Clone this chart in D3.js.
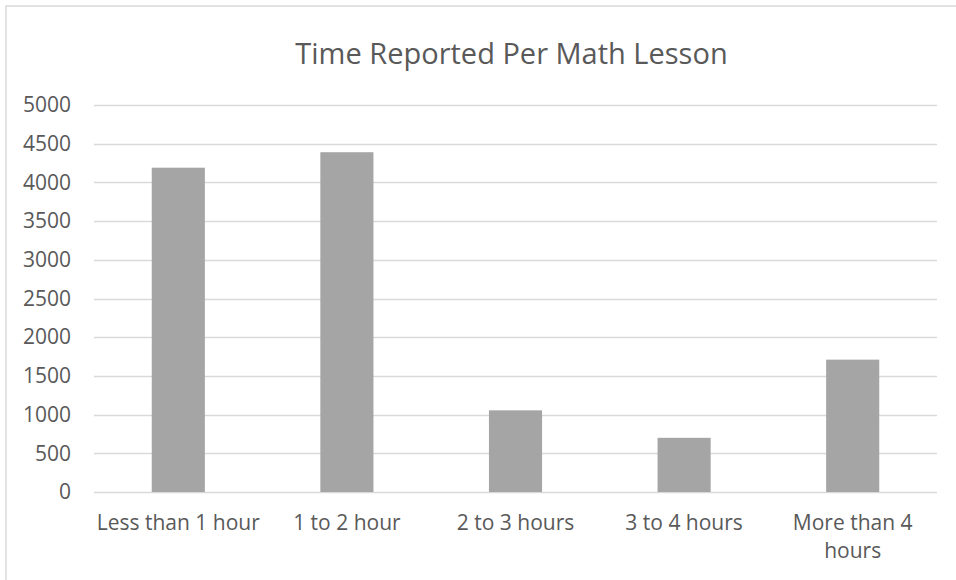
<!DOCTYPE html>
<html>
<head>
  <script src="https://d3js.org/d3.v7.min.js"></script>
</head>
<style>
body { margin: 0; background: #fff; }
text { font-family: "Open Sans", sans-serif; fill: #595959; }
</style>
<body>
  <svg id="chart"></svg>
</body>
<script>
  var categories = ["Less than 1 hour", "1 to 2 hour", "2 to 3 hours", "3 to 4 hours", "More than 4 hours"];
  var values = [4190, 4390, 1055, 700, 1710];
  var yTicks = [0, 500, 1000, 1500, 2000, 2500, 3000, 3500, 4000, 4500, 5000];
  var title = "Time Reported Per Math Lesson";

  var w = 956;
  var h = 580;
  var margin = {top: 105, right: 19, bottom: 88, left: 94};

  var svg = d3.select("#chart")
    .attr("width", w)
    .attr("height", h);

  // chart frame (only top/left edges fall inside the picture)
  svg.append("rect")
    .attr("x", 6).attr("y", 6)
    .attr("width", 1000).attr("height", 1000)
    .attr("fill", "#fff")
    .attr("stroke", "#d9d9d9")
    .attr("stroke-width", 1.5);

  var x = d3.scaleBand()
    .domain(categories)
    .range([margin.left, w - margin.right])
    .paddingInner(0.685)
    .paddingOuter(0.3425);

  var y = d3.scaleLinear()
    .domain([0, 5000])
    .range([h - margin.bottom, margin.top]);

  // gridlines
  svg.append("g")
    .selectAll("line")
    .data(yTicks)
    .enter().append("line")
    .attr("x1", margin.left)
    .attr("x2", w - margin.right)
    .attr("y1", function(d) { return Math.round(y(d)) + 0.5; })
    .attr("y2", function(d) { return Math.round(y(d)) + 0.5; })
    .attr("stroke", "#d9d9d9")
    .attr("stroke-width", 1.5);

  // y labels
  var yAxis = svg.append("g")
    .attr("transform", "translate(" + (margin.left - 23) + ",0)")
    .call(d3.axisLeft(y).tickValues(yTicks).tickFormat(d3.format("d")).tickSize(0).tickPadding(0));
  yAxis.select(".domain").remove();
  yAxis.selectAll("text")
    .style("font-size", "21px")
    .attr("fill", "#595959")
    .attr("font-family", "Open Sans");

  // bars
  svg.append("g")
    .selectAll("rect")
    .data(values)
    .enter().append("rect")
    .attr("x", function(d, i) { return x(categories[i]); })
    .attr("width", x.bandwidth())
    .attr("y", function(d) { return y(d); })
    .attr("height", function(d) { return y(0) - y(d); })
    .attr("fill", "#a5a5a5");

  // x labels, wrapped like the original
  var xLab = svg.append("g");
  categories.forEach(function(c) {
    var lines = c === "More than 4 hours" ? ["More than 4", "hours"] : [c];
    var t = xLab.append("text")
      .attr("text-anchor", "middle")
      .style("font-size", "21px");
    lines.forEach(function(l, k) {
      t.append("tspan")
        .attr("x", x(c) + x.bandwidth() / 2)
        .attr("y", 530 + k * 28)
        .text(l);
    });
  });

  svg.append("text")
    .attr("x", (margin.left + w - margin.right) / 2 - 4)
    .attr("y", 64)
    .attr("text-anchor", "middle")
    .style("font-size", "29px")
    .text(title);
</script>
</html>
